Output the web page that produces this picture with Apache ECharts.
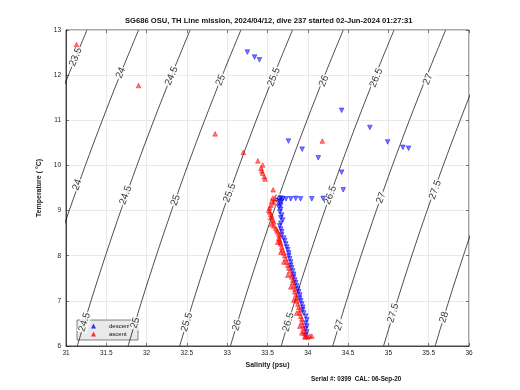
<!DOCTYPE html>
<html><head><meta charset="utf-8">
<script src="https://cdn.jsdelivr.net/npm/echarts@6/dist/echarts.min.js"></script>
<style>html,body{margin:0;padding:0;background:#fff}#c{width:520px;height:390px}</style>
</head><body><div id="c"></div>
<script>
// ---- data ----
const titleText = 'SG686 OSU, TH Line mission, 2024/04/12, dive 237 started 02-Jun-2024 01:27:31';
const footerText = 'Serial #: 0399  CAL: 06-Sep-20';
const xTicks = [31, 31.5, 32, 32.5, 33, 33.5, 34, 34.5, 35, 35.5, 36];
const yTicks = [6, 7, 8, 9, 10, 11, 12, 13];

// isopycnal (sigma-theta) contours: salinity at T=6 and salinity shift with temperature
const contourLevels = [23.5, 24, 24.5, 25, 25.5, 26, 26.5, 27, 27.5, 28];
const contourSalAt6 = [29.86, 30.50, 31.14, 31.77, 32.41, 33.04, 33.67, 34.31, 34.94, 35.58];
const contourTemps = [6, 7, 8, 9, 10, 11, 12, 13];
const contourShift = [0, 0.17, 0.35, 0.54, 0.74, 0.95, 1.17, 1.40];

// contour label positions [salinity, temperature, level]
const contourLabels = [
  [31.12, 12.40, '23.5'],
  [31.68, 12.05, '24'], [31.14, 9.57, '24'],
  [32.31, 11.98, '24.5'], [31.74, 9.34, '24.5'], [31.23, 6.53, '24.5'],
  [32.92, 11.89, '25'], [32.36, 9.23, '25'], [31.86, 6.51, '25'],
  [33.58, 11.96, '25.5'], [33.03, 9.39, '25.5'], [32.50, 6.53, '25.5'],
  [34.20, 11.87, '26'], [33.63, 9.23, '26'], [33.12, 6.46, '26'],
  [34.85, 11.94, '26.5'], [34.28, 9.34, '26.5'], [33.76, 6.53, '26.5'],
  [35.49, 11.91, '27'], [34.91, 9.28, '27'], [34.39, 6.46, '27'],
  [35.58, 9.46, '27.5'], [35.06, 6.73, '27.5'],
  [35.69, 6.64, '28']
];

const descent = [
  [33.25,12.51],[33.34,12.40],[33.40,12.34],[34.42,11.22],[34.77,10.84],[33.76,10.54],
  [33.93,10.36],[34.13,10.17],[34.99,10.52],[35.18,10.40],[35.25,10.38],[34.42,9.85],[34.44,9.46],
  [33.73,9.26],[33.79,9.26],[33.85,9.27],[33.91,9.26],[34.05,9.26],[34.19,9.27],
  [33.665,9.28],[33.689,9.26],[33.640,9.23],[33.677,9.21],[33.652,9.17],[33.665,9.12],
  [33.640,9.08],[33.665,9.03],[33.652,8.97],[33.677,8.90],[33.665,8.84],[33.689,8.79],
  [33.665,8.72],[33.652,8.66],[33.665,8.59],[33.677,8.53],[33.677,8.46],[33.702,8.39],
  [33.714,8.33],[33.727,8.26],[33.739,8.19],[33.752,8.13],[33.764,8.06],[33.764,8.00],
  [33.776,7.93],[33.789,7.86],[33.789,7.79],[33.801,7.73],[33.814,7.66],[33.826,7.59],
  [33.826,7.53],[33.839,7.46],[33.851,7.40],[33.863,7.33],[33.876,7.26],[33.888,7.20],
  [33.901,7.13],[33.901,7.06],[33.913,7.00],[33.926,6.93],[33.938,6.86],[33.938,6.80],
  [33.950,6.73],[33.975,6.66],[33.988,6.58],[33.975,6.51],[33.988,6.44],[33.975,6.38],
  [33.988,6.31],[33.975,6.24]
];

const ascent = [
  [31.13,12.68],[31.90,11.77],[32.85,10.70],[33.20,10.29],[33.38,10.10],[33.44,10.01],
  [33.42,9.94],[33.43,9.88],[33.44,9.83],[33.46,9.75],[33.47,9.70],[34.18,10.54],[33.57,9.46],
  [33.565,9.28],[33.590,9.26],[33.553,9.21],[33.578,9.17],[33.540,9.12],[33.528,9.06],
  [33.516,9.01],[33.528,8.97],[33.540,8.92],[33.553,8.88],[33.540,8.84],[33.565,8.79],
  [33.578,8.75],[33.553,8.70],[33.578,8.66],[33.602,8.61],[33.615,8.57],[33.627,8.53],
  [33.640,8.48],[33.652,8.44],[33.640,8.39],[33.652,8.35],[33.658,8.30],[33.665,8.26],
  [33.677,8.19],[33.689,8.13],[33.702,8.06],[33.714,8.00],[33.727,7.93],[33.739,7.86],
  [33.752,7.79],[33.764,7.73],[33.776,7.66],[33.801,7.59],[33.801,7.53],[33.814,7.46],
  [33.814,7.40],[33.826,7.33],[33.839,7.26],[33.839,7.20],[33.851,7.13],[33.863,7.06],
  [33.863,7.00],[33.876,6.93],[33.888,6.86],[33.901,6.80],[33.901,6.73],[33.913,6.66],
  [33.926,6.60],[33.926,6.53],[33.938,6.46],[33.950,6.40],[33.950,6.33],[33.963,6.27],
  [33.975,6.22],[34.000,6.20],[34.025,6.22],[34.050,6.22],[33.963,6.20],
  [33.627,8.30],[33.665,8.08],[33.702,7.86],[33.752,7.57],[33.789,7.31],[33.826,7.02],
  [33.863,6.73],[33.901,6.44],[33.926,6.29]
];

// ---- chart ----
const FONT = 'Liberation Sans';
const chart = echarts.init(document.getElementById('c'), null, {renderer: 'canvas'});

const contourSeries = contourLevels.map((lev, i) => ({
  type: 'line', silent: true, z: 1, xAxisIndex: 0, yAxisIndex: 0,
  data: contourTemps.map((t, j) => [contourSalAt6[i] + contourShift[j], t]),
  showSymbol: false, symbol: 'none', smooth: 0.3, clip: true,
  lineStyle: {color: '#000', width: 0.7}
}));

const labelSeries = {
  type: 'scatter', silent: true, z: 2, symbolSize: 0,
  data: contourLabels.map(d => ({
    value: [d[0], d[1]],
    label: {rotate: d[1] < 7.5 ? 73 : (d[1] < 10.5 ? 70 : 67), formatter: d[2]}
  })),
  label: {show: true, position: 'inside', color: '#000', fontFamily: FONT, fontSize: 10,
          backgroundColor: '#fff', padding: [0, 1]}
};

const minMaxX = {min: xTicks[0], max: xTicks[xTicks.length - 1], interval: 0.5};
const minMaxY = {min: yTicks[0], max: yTicks[yTicks.length - 1], interval: 1};

chart.setOption({
  animation: false,
  backgroundColor: '#fff',
  title: [
    {text: titleText, left: 120, top: 12, textStyle: {fontFamily: FONT, fontSize: 7.6, fontWeight: 'bold', color: '#111'}},
    {text: footerText, left: 306, top: 371, textStyle: {fontFamily: FONT, fontSize: 6.3, fontWeight: 'bold', color: '#111'}}
  ],
  grid: {left: 66, top: 30, width: 403, height: 316, show: true, borderColor: '#222', borderWidth: 0.8, backgroundColor: '#fff'},
  legend: {
    orient: 'vertical', left: 77, top: 320, z: 1,
    data: [{name: 'descent', itemStyle: {color: '#0000ff', borderWidth: 0}},
           {name: 'ascent', itemStyle: {color: '#ff0000', borderWidth: 0}}],
    itemWidth: 5, itemHeight: 5, itemGap: 2,
    itemStyle: {borderWidth: 0},
    padding: [3, 8, 3, 14],
    backgroundColor: '#e9e9e9', borderColor: '#333', borderWidth: 0.6, borderRadius: 0,
    textStyle: {fontFamily: FONT, fontSize: 6, color: '#111', padding: [0, 0, 0, 8]}
  },
  xAxis: [
    Object.assign({type: 'value', name: 'Salinity (psu)', nameLocation: 'middle', nameGap: 14,
      nameTextStyle: {fontFamily: FONT, fontSize: 7, fontWeight: 'bold', color: '#222'},
      axisLine: {show: true, lineStyle: {color: '#222', width: 0.8}},
      axisTick: {show: true, inside: true, length: 3, lineStyle: {color: '#222', width: 0.6}},
      axisLabel: {fontFamily: FONT, fontSize: 6.5, color: '#222', margin: 4, formatter: v => String(v)},
      splitLine: {show: true, lineStyle: {color: '#e3e3e3', width: 0.8}}}, minMaxX),
    Object.assign({type: 'value', position: 'top',
      axisLine: {show: false}, axisTick: {show: true, inside: true, length: 3, lineStyle: {color: '#222', width: 0.6}},
      axisLabel: {show: false}, splitLine: {show: false}}, minMaxX)
  ],
  yAxis: [
    Object.assign({type: 'value', name: 'Temperature ( °C)', nameLocation: 'middle', nameGap: 22,
      nameTextStyle: {fontFamily: FONT, fontSize: 7, fontWeight: 'bold', color: '#222'},
      axisLine: {show: true, lineStyle: {color: '#222', width: 0.8}},
      axisTick: {show: true, inside: true, length: 3, lineStyle: {color: '#222', width: 0.6}},
      axisLabel: {fontFamily: FONT, fontSize: 6.5, color: '#222', margin: 5},
      splitLine: {show: true, lineStyle: {color: '#e3e3e3', width: 0.8}}}, minMaxY),
    Object.assign({type: 'value', position: 'right',
      axisLine: {show: false}, axisTick: {show: true, inside: true, length: 3, lineStyle: {color: '#222', width: 0.6}},
      axisLabel: {show: false}, splitLine: {show: false}}, minMaxY)
  ],
  series: contourSeries.concat([
    labelSeries,
    {name: 'descent', type: 'scatter', z: 3, data: descent, symbol: 'triangle', symbolRotate: 180,
     symbolSize: 4.6,
     itemStyle: {color: 'rgba(0,0,255,0.65)', borderColor: '#0000ff', borderWidth: 0.6}},
    {name: 'ascent', type: 'scatter', z: 4, data: ascent, symbol: 'triangle',
     symbolSize: 4.6,
     itemStyle: {color: 'rgba(255,0,0,0.65)', borderColor: '#ff0000', borderWidth: 0.6}}
  ])
});
</script>
</body></html>
